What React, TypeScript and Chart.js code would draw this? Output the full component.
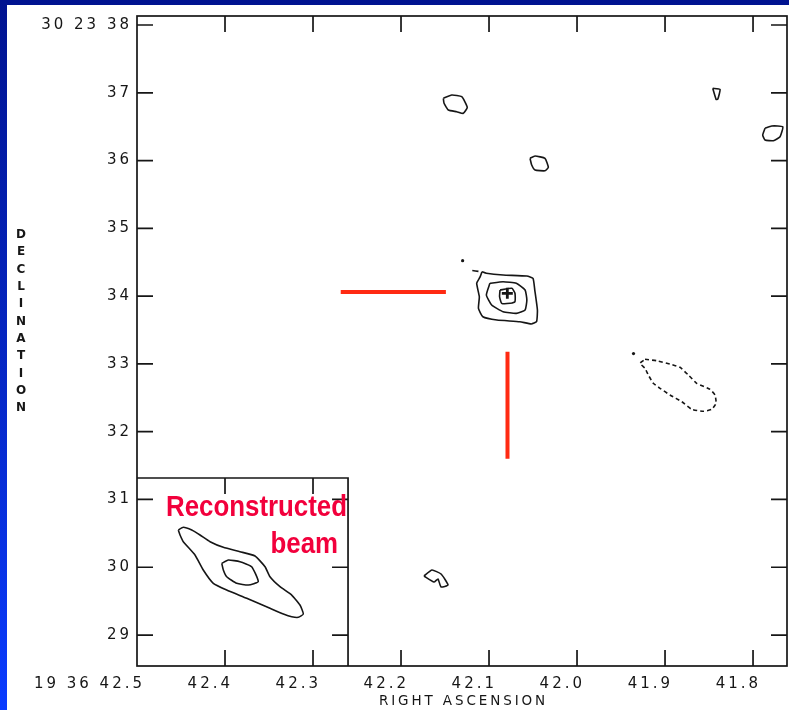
import React, { useEffect, useRef } from "react";
import { Chart, registerables } from "chart.js";

Chart.register(...registerables);

// ---- axes (RA seconds of 19h36m, Dec arcsec of +30d23m) ----
const RA_LEFT = 42.5;
const RA_RIGHT = 41.7614;
const DEC_BOTTOM = 28.543;
const DEC_TOP = 38.133;

const decTicks = [38, 37, 36, 35, 34, 33, 32, 31, 30, 29];
const decLabels = ["30 23 38", "37", "36", "35", "34", "33", "32", "31", "30", "29"];
const raTicks = [42.5, 42.4, 42.3, 42.2, 42.1, 42.0, 41.9, 41.8];
const raLabels = ["19 36 42.5", "42.4", "42.3", "42.2", "42.1", "42.0", "41.9", "41.8"];

// inset (reconstructed beam) box
const insetRaEdge = 42.2602;
const insetDecEdge = 31.317;
const insetRaTicks = [42.4, 42.3];
const insetDecTicks = [31, 30, 29];

// ---- contours [RA, Dec] ----
const srcOuter = [
  [42.108, 34.36], [42.103, 34.337], [42.084, 34.312], [42.057, 34.297], [42.05, 34.263],
  [42.048, 34.09], [42.045, 33.795], [42.046, 33.623], [42.052, 33.589], [42.065, 33.623],
  [42.091, 33.648], [42.107, 33.696], [42.112, 33.82], [42.111, 33.991], [42.114, 34.189],
  [42.11, 34.287], [42.108, 34.36],
];
const srcMiddle = [
  [42.099, 34.189], [42.084, 34.213], [42.069, 34.189], [42.059, 34.09], [42.057, 33.943],
  [42.059, 33.795], [42.069, 33.746], [42.084, 33.77], [42.097, 33.869], [42.103, 34.017],
  [42.099, 34.189],
];
const srcInner = [
  [42.0875, 34.09], [42.074, 34.115], [42.0705, 34.042], [42.0705, 33.918], [42.076, 33.894],
  [42.0856, 33.894], [42.088, 33.991], [42.0875, 34.09],
];
const srcDash = [[42.119, 34.378], [42.112, 34.365]];
const sourcePeak = [[42.0792, 34.042]];
const specks = [[42.13, 34.523], [41.9358, 33.153]];

const blobA = [
  [42.1519, 36.919], [42.1424, 36.967], [42.131, 36.942], [42.1247, 36.786], [42.1292, 36.697],
  [42.1367, 36.721], [42.1462, 36.746], [42.1511, 36.845], [42.1519, 36.919],
];
const blobB = [
  [42.0534, 36.033], [42.0477, 36.067], [42.0364, 36.033], [42.0326, 35.901], [42.0364, 35.85],
  [42.0477, 35.861], [42.0515, 35.934], [42.0534, 36.033],
];
const blobTri = [[41.8458, 37.066], [41.8375, 37.051], [41.8401, 36.904], [41.842, 36.904], [41.8458, 37.066]];
const blobEdge = [
  [41.7864, 36.476], [41.7788, 36.51], [41.7662, 36.5], [41.7693, 36.352], [41.7769, 36.293],
  [41.7864, 36.303], [41.789, 36.377], [41.7864, 36.476],
];
const blobLow = [
  [42.1739, 29.871], [42.1648, 29.959], [42.1545, 29.9], [42.1466, 29.738], [42.1545, 29.709],
  [42.158, 29.827], [42.1625, 29.782], [42.1739, 29.871],
];
const negContour = [
  [41.9227, 33.068], [41.9094, 33.047], [41.8943, 32.998], [41.883, 32.95], [41.8735, 32.836],
  [41.864, 32.714], [41.8489, 32.625], [41.8432, 32.541], [41.842, 32.419], [41.8469, 32.33],
  [41.8565, 32.301], [41.8697, 32.33], [41.881, 32.442], [41.8943, 32.541], [41.9057, 32.64],
  [41.9133, 32.714], [41.919, 32.836], [41.9227, 32.935], [41.9284, 33.009], [41.9227, 33.068],
];

const beamOuter = [
  [42.4531, 30.549], [42.4474, 30.589], [42.4378, 30.549], [42.4284, 30.476], [42.417, 30.377],
  [42.4019, 30.294], [42.383, 30.229], [42.3659, 30.166], [42.3545, 30.008], [42.3489, 29.86],
  [42.3375, 29.713], [42.3242, 29.59], [42.3148, 29.443], [42.311, 29.31], [42.3167, 29.261],
  [42.3242, 29.27], [42.3337, 29.31], [42.3489, 29.394], [42.3753, 29.542], [42.3981, 29.664],
  [42.4133, 29.763], [42.4247, 29.959], [42.4341, 30.181], [42.4474, 30.377], [42.4511, 30.476],
  [42.4531, 30.549],
];
const beamInner = [
  [42.4037, 30.058], [42.3962, 30.107], [42.383, 30.082], [42.3697, 30.008], [42.3622, 29.787],
  [42.3735, 29.738], [42.3867, 29.763], [42.3981, 29.86], [42.4019, 29.959], [42.4037, 30.058],
];

// red marker bars
const markerH = [[42.2685, 34.06], [42.149, 34.06]];
const markerV = [[42.079, 33.18], [42.079, 31.6]];

const noteLine1 = "Reconstructed";
const noteLine2 = "beam";

const toXY = (arr: number[][]) => arr.map(([x, y]) => ({ x, y }));

const INK = "#161616";
const RED = "#ff2a12";

function contour(data: number[][], dashed = false) {
  return {
    data: toXY(data),
    showLine: true,
    borderColor: INK,
    borderWidth: 1.6,
    pointRadius: 0,
    tension: 0.15,
    borderDash: dashed ? [4, 3] : [],
    fill: false,
  };
}

const framePlugin = {
  id: "frame",
  afterDatasetsDraw(chart: any) {
    const { ctx, chartArea: a, scales } = chart;
    const x = scales.x;
    const y = scales.y;
    const T = 16;
    ctx.save();
    ctx.strokeStyle = INK;
    ctx.lineWidth = 1.7;
    ctx.strokeRect(a.left, a.top, a.right - a.left, a.bottom - a.top);
    ctx.beginPath();
    decTicks.forEach((v) => {
      const py = y.getPixelForValue(v);
      ctx.moveTo(a.left, py);
      ctx.lineTo(a.left + T, py);
      ctx.moveTo(a.right, py);
      ctx.lineTo(a.right - T, py);
    });
    raTicks.slice(1).forEach((v) => {
      const px = x.getPixelForValue(v);
      ctx.moveTo(px, a.top);
      ctx.lineTo(px, a.top + T);
      ctx.moveTo(px, a.bottom);
      ctx.lineTo(px, a.bottom - T);
    });
    const ix = x.getPixelForValue(insetRaEdge);
    const iy = y.getPixelForValue(insetDecEdge);
    ctx.moveTo(a.left, iy);
    ctx.lineTo(ix, iy);
    ctx.lineTo(ix, a.bottom);
    insetRaTicks.forEach((v) => {
      const px = x.getPixelForValue(v);
      ctx.moveTo(px, iy);
      ctx.lineTo(px, iy + T);
    });
    insetDecTicks.forEach((v) => {
      const py = y.getPixelForValue(v);
      ctx.moveTo(ix, py);
      ctx.lineTo(ix - T, py);
    });
    ctx.stroke();

    // tick labels
    const LS = 3;
    ctx.fillStyle = INK;
    ctx.font = '15px "DejaVu Sans"';
    (ctx as any).letterSpacing = LS + "px";
    ctx.textAlign = "right";
    ctx.textBaseline = "middle";
    decTicks.forEach((v, i) => {
      ctx.fillText(decLabels[i], a.left - 8 + LS, y.getPixelForValue(v));
    });
    raTicks.forEach((v, i) => {
      ctx.fillText(raLabels[i], x.getPixelForValue(v) + 5 + LS, a.bottom + 18);
    });

    // axis titles
    ctx.font = '13.5px "DejaVu Sans"';
    (ctx as any).letterSpacing = "2.9px";
    ctx.textAlign = "center";
    ctx.fillText("RIGHT ASCENSION", (a.left + a.right) / 2 + 1.5, a.bottom + 35);
    (ctx as any).letterSpacing = "0px";
    ctx.font = 'bold 12px "DejaVu Sans"';
    const word = "DECLINATION";
    for (let i = 0; i < word.length; i++) {
      ctx.fillText(word[i], 21, 235 + i * 17.3);
    }

    // annotation
    ctx.fillStyle = "#f2003c";
    ctx.font = 'bold 29px "Liberation Sans"';
    ctx.textAlign = "left";
    ctx.textBaseline = "alphabetic";
    const w1 = ctx.measureText(noteLine1).width;
    const k = (ix - a.left - 30) / w1;
    ctx.save();
    ctx.translate(a.left + 29, iy + 38);
    ctx.scale(k, 1);
    ctx.fillText(noteLine1, 0, 0);
    ctx.restore();
    const w2 = ctx.measureText(noteLine2).width;
    ctx.save();
    ctx.translate(ix - 10 - w2 * k, iy + 75);
    ctx.scale(k, 1);
    ctx.fillText(noteLine2, 0, 0);
    ctx.restore();
    ctx.restore();
  },
};

export default function App() {
  const ref = useRef<HTMLCanvasElement | null>(null);
  useEffect(() => {
    if (!ref.current) return;
    const chart = new Chart(ref.current, {
      type: "scatter",
      data: {
        datasets: [
          contour(srcOuter),
          contour(srcMiddle),
          contour(srcInner),
          contour(srcDash),
          contour(blobA),
          contour(blobB),
          contour(blobTri),
          contour(blobEdge),
          contour(blobLow),
          contour(negContour, true),
          contour(beamOuter),
          contour(beamInner),
          {
            data: toXY(sourcePeak),
            pointStyle: "cross",
            pointRadius: 5.5,
            borderWidth: 2.8,
            borderColor: INK,
            backgroundColor: INK,
          } as any,
          {
            data: toXY(specks),
            pointRadius: 1.6,
            borderWidth: 0,
            backgroundColor: INK,
          } as any,
          {
            data: toXY(markerH),
            showLine: true,
            borderColor: RED,
            borderWidth: 4,
            pointRadius: 0,
            borderCapStyle: "butt",
          } as any,
          {
            data: toXY(markerV),
            showLine: true,
            borderColor: RED,
            borderWidth: 4,
            pointRadius: 0,
            borderCapStyle: "butt",
          } as any,
        ] as any,
      },
      options: {
        responsive: false,
        animation: false,
        events: [],
        layout: { autoPadding: false, padding: { left: 137, top: 16, right: 2, bottom: 44 } },
        scales: {
          x: { type: "linear", reverse: true, min: RA_RIGHT, max: RA_LEFT, display: false },
          y: { type: "linear", min: DEC_BOTTOM, max: DEC_TOP, display: false },
        },
        plugins: { legend: { display: false }, tooltip: { enabled: false } },
      } as any,
      plugins: [framePlugin],
    });
    return () => chart.destroy();
  }, []);

  return (
    <div
      style={{
        position: "fixed",
        left: 0,
        top: 0,
        width: 789,
        height: 710,
        background: "linear-gradient(180deg, #001390 0%, #0628c8 55%, #0a3cff 100%)",
        overflow: "hidden",
      }}
    >
      <div style={{ position: "absolute", left: 7, top: 5, right: 0, bottom: 0, background: "#ffffff" }} />
      <canvas ref={ref} width={789} height={710} style={{ position: "absolute", left: 0, top: 0 }} />
    </div>
  );
}
